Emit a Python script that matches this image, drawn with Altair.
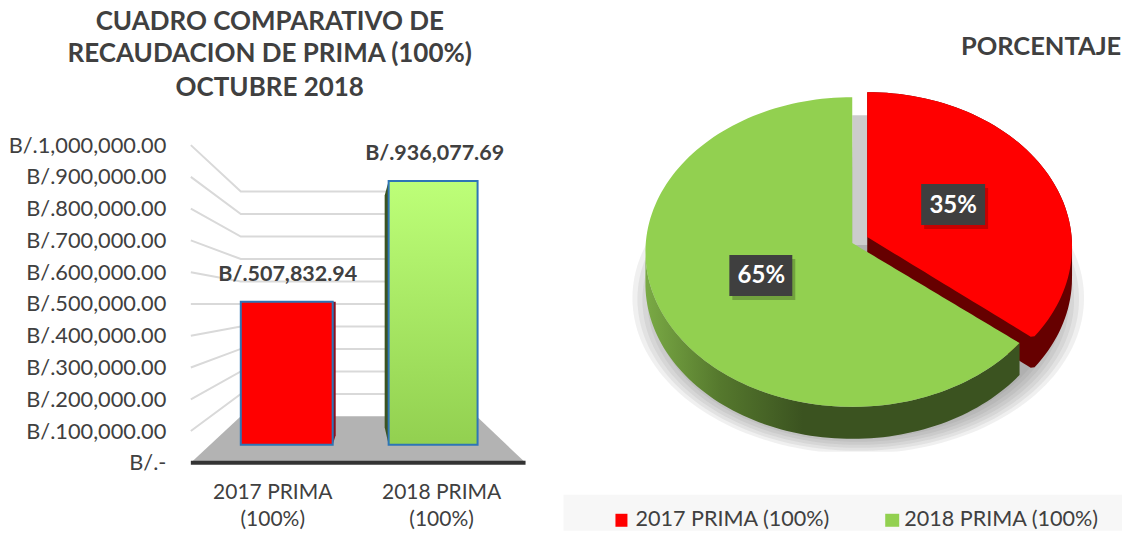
import altair as alt
import numpy as np
import pandas as pd

# ---- data ----
title_lines = ["CUADRO COMPARATIVO DE", "RECAUDACION DE PRIMA (100%)", "OCTUBRE 2018"]
categories = ["2017 PRIMA (100%)", "2018 PRIMA (100%)"]
values = [507832.94, 936077.69]
value_labels = ["B/.507,832.94", "B/.936,077.69"]
shares = [35, 65]
share_labels = ["35%", "65%"]
ticks = [0, 100000, 200000, 300000, 400000, 500000, 600000, 700000, 800000, 900000, 1000000]

FONT = "Lato"
TXT = "#404040"
RED = "#ff0000"
GREEN = "#92d050"

# ---- left panel: value axis is the front edge of a perspective box ----
PX_PER_UNIT = 318 / 1e6
def val(py):
    return (463 - py) / PX_PER_UNIT
def on_bar_plane(v):
    return val(445) + v * 28.2 / 31.8
def on_back_wall(v):
    return val(416.5) + v * 22.5 / 31.8

LW, LH = 370, 523
xl = alt.X("x:Q", axis=None, scale=alt.Scale(domain=[185, 555], nice=False, zero=False))
yn = alt.Y("y:Q", title=None, scale=alt.Scale(domain=[val(531), val(8)], nice=False, zero=False),
           axis=alt.Axis(values=ticks, domain=False, ticks=False, grid=False, labelFont=FONT,
                         labelFontSize=21.8, labelColor=TXT, labelPadding=20, minExtent=177, maxExtent=177,
                         labelExpr="datum.value === 0 ? 'B/.-\u00a0\u00a0' : 'B/.' + format(datum.value, ',.2f')"))

grid_rows = []
for t in ticks[1:]:
    grid_rows += [dict(t=t, i=0, x=190, y=t), dict(t=t, i=1, x=240, y=on_back_wall(t)), dict(t=t, i=2, x=386, y=on_back_wall(t))]
grid = alt.Chart(pd.DataFrame(grid_rows)).mark_line(color="#d9d9d9", strokeWidth=2).encode(
    x=xl, y=yn, detail="t:N", order="i:Q")

floor = alt.Chart(pd.DataFrame([dict(x=190, y=0, y2=0), dict(x=240, y=val(416.5), y2=0),
                                dict(x=476, y=val(416.5), y2=0), dict(x=525, y=0, y2=0)])).mark_area(
    color="#b3b3b3", orient="vertical").encode(x=xl, y=yn, y2="y2:Q")
base_line = alt.Chart(pd.DataFrame(dict(x=[190], x2=[525], y=[0]))).mark_rule(color="#333333", strokeWidth=4).encode(
    x=xl, x2="x2:Q", y=yn)

def bar(i, x0, x1, fill):
    d = pd.DataFrame(dict(x=[x0], x2=[x1], y=[on_bar_plane(values[i])], y2=[on_bar_plane(0)]))
    return alt.Chart(d).mark_bar(color=fill, stroke="#2e75b6", strokeWidth=2).encode(
        x=xl, x2="x2:Q", y=yn, y2="y2:Q")

green_grad = alt.LinearGradient(gradient="linear", x1=0, x2=0, y1=0, y2=1,
                          stops=[alt.GradientStop(color="#bdff78", offset=0), alt.GradientStop(color="#92d050", offset=1)])
top0, top1 = on_bar_plane(values[0]), on_bar_plane(values[1])
base = on_bar_plane(0)
side_red = alt.Chart(pd.DataFrame([dict(x=332, y=top0, y2=base), dict(x=335, y=top0, y2=base + 30000)])).mark_area(
    color="#8c1020", orient="vertical").encode(x=xl, y=yn, y2="y2:Q")
side_green = alt.Chart(pd.DataFrame([dict(x=384, y=top1 - 45000, y2=base + 55000), dict(x=388, y=top1, y2=base)])).mark_area(
    color="#3b5320", orient="vertical").encode(x=xl, y=yn, y2="y2:Q")

val_text = alt.Chart(pd.DataFrame(dict(x=[287, 434], y=[on_bar_plane(v) for v in values], t=value_labels))).mark_text(
    font=FONT, fontSize=21.5, fontWeight="bold", color=TXT, dy=-27).encode(x=xl, y=yn, text="t:N")

cat_rows = []
for c, x in zip(categories, [272, 441]):
    a, b = c.split(" (")
    cat_rows += [dict(x=x, y=val(493), t=a), dict(x=x, y=val(520), t="(" + b)]
cat_text = alt.Chart(pd.DataFrame(cat_rows)).mark_text(font=FONT, fontSize=21, color=TXT).encode(x=xl, y=yn, text="t:N")

title_text = alt.Chart(pd.DataFrame(dict(x=[269, 269, 269], y=[val(22), val(54), val(88)], t=title_lines))).mark_text(
    font=FONT, fontSize=26, fontWeight="bold", color=TXT).encode(x=xl, y=yn, text="t:N")

left = alt.layer(floor, grid, base_line, side_red, bar(0, 240, 332, RED), side_green,
                 bar(1, 388, 477, green_grad), val_text, cat_text, title_text).properties(width=LW, height=LH)

# ---- right panel: tilted pie, elliptical outline derived from the shares ----
RW, RH = 567, 523
xr_scale = alt.Scale(domain=[555, 1122], nice=False, zero=False)
yr_scale = alt.Scale(domain=[531, 8], nice=False, zero=False)
xr = alt.X("x:Q", axis=None, scale=xr_scale)
yr = alt.Y("y:Q", axis=None, scale=yr_scale)
DEPTH = 31

def ell(cx, cy, rx, ry, deg):
    a = np.radians(deg)
    return cx + rx * np.sin(a), cy - ry * np.cos(a)

def area_df(xs, ys, y2s):
    return pd.DataFrame(dict(x=xs, y=ys, y2=y2s))

def area_layer(d, color, **kw):
    return alt.Chart(d).mark_area(color=color, orient="vertical", **kw).encode(
        x=xr, y=yr, y2="y2:Q")

def full_ellipse(cx, cy, rx, ry, clip=None):
    a = np.radians(np.linspace(-90, 90, 91))
    xs = cx + rx * np.sin(a)
    up = cy - ry * np.cos(a)
    lo = cy + ry * np.cos(a)
    if clip is not None:
        lo = np.minimum(lo, clip)
        up = np.minimum(up, clip)
    return area_df(xs, up, lo)

shadow = [area_layer(full_ellipse(858, 298 + k, 226 - 5 * k, 156 - 4 * k, 452), "#707070", opacity=0.1) for k in range(0, 7)]

gap = alt.Chart(pd.DataFrame(dict(x=[852], x2=[868], y=[115], y2=[245]))).mark_rect(color="#cccccc").encode(
    x=xr, x2="x2:Q", y=yr, y2="y2:Q")

split = shares[0] / sum(shares) * 360

# red slice
rcx, rcy, rrx, rry = 867, 247, 205, 155
apex_r = (867, 237)
deg = np.linspace(0, split, 70)
rx_pts, ry_pts = ell(rcx, rcy, rrx, rry, deg)
imax = int(np.argmax(rx_pts))
ux, uy = rx_pts[:imax + 1], ry_pts[:imax + 1]
lx, ly = rx_pts[imax:][::-1], ry_pts[imax:][::-1]
cut_x = np.concatenate([[apex_r[0]], lx])
cut_y = np.concatenate([[apex_r[1]], ly])
xs = ux
lower = np.interp(xs, cut_x, cut_y)
red_top = area_df(xs, uy, lower)
red_side = area_df(xs, uy, lower + DEPTH)

# green slice
gcx, gcy, grx, gry = 852, 252, 207, 155
apex_g = (852, 243)
deg2 = np.linspace(360, split, 140)
gx, gy = ell(gcx, gcy, grx, gry, deg2)
imin = int(np.argmin(gx))
upper_x, upper_y = gx[:imin + 1][::-1], gy[:imin + 1][::-1]
lower_x, lower_y = gx[imin:], gy[imin:]
end_x, end_y = gx[-1], gy[-1]
xs_left = upper_x
xs_right = np.linspace(gcx, end_x, 40)
x_all = np.concatenate([xs_left, xs_right])
u_all = np.concatenate([upper_y, apex_g[1] + (xs_right - apex_g[0]) * (end_y - apex_g[1]) / (end_x - apex_g[0])])
l_all = np.interp(x_all, lower_x, lower_y)
green_top = area_df(x_all, u_all, l_all)
green_side = area_df(lower_x, lower_y, lower_y + DEPTH + 1)

side_grad = alt.LinearGradient(gradient="linear", x1=0, x2=1, y1=0, y2=0, stops=[
    alt.GradientStop(color="#7aaa45", offset=0),
    alt.GradientStop(color="#55782d", offset=0.2),
    alt.GradientStop(color="#3b5320", offset=0.42),
    alt.GradientStop(color="#3b5320", offset=1)])

# label boxes
boxes = pd.DataFrame(dict(x=[921, 729], x2=[985, 792], y=[184, 255], y2=[225, 296], cx=[953, 761], cy=[205.5, 276.5], t=share_labels))
box_shadow = alt.Chart(boxes).transform_calculate(a="datum.x+3", b="datum.x2+3", c="datum.y+4", d="datum.y2+4").mark_rect(
    color="#000000", opacity=0.22).encode(x=alt.X("a:Q", axis=None, scale=xr_scale), x2="b:Q",
                                          y=alt.Y("c:Q", axis=None, scale=yr_scale), y2="d:Q")
box = alt.Chart(boxes).mark_rect(color="#3f3f3f").encode(x=xr, x2="x2:Q", y=yr, y2="y2:Q")
box_text = alt.Chart(boxes).mark_text(font=FONT, fontSize=24, fontWeight="bold", color="#ffffff").encode(
    x=alt.X("cx:Q", axis=None, scale=xr_scale), y=alt.Y("cy:Q", axis=None, scale=yr_scale), text="t:N")

pie_title = alt.Chart(pd.DataFrame(dict(x=[1041], y=[47], t=["PORCENTAJE"]))).mark_text(
    font=FONT, fontSize=25.5, fontWeight="bold", color=TXT).encode(x=xr, y=yr, text="t:N")

band = alt.Chart(pd.DataFrame(dict(x=[563], x2=[1122], y=[495], y2=[531]))).mark_rect(color="#f7f7f7").encode(
    x=xr, x2="x2:Q", y=yr, y2="y2:Q")
legend_sw = alt.Chart(pd.DataFrame(dict(x=[615, 885], x2=[627, 899], y=[514, 514], y2=[527, 527], c=categories))).mark_rect().encode(
    x=xr, x2="x2:Q", y=yr, y2="y2:Q",
    color=alt.Color("c:N", legend=None, scale=alt.Scale(domain=categories, range=[RED, GREEN])))
legend_tx = alt.Chart(pd.DataFrame(dict(x=[635, 904], y=[520, 520], c=categories))).mark_text(
    font=FONT, fontSize=21.6, color=TXT, align="left").encode(x=xr, y=yr, text="c:N")

right = alt.layer(*shadow, gap, area_layer(red_side, "#660000"), area_layer(red_top, RED),
                  area_layer(green_side, side_grad), area_layer(green_top, GREEN),
                  box_shadow, box, box_text, pie_title, band, legend_sw, legend_tx).properties(width=RW, height=RH)

chart = alt.hconcat(left, right, spacing=0).properties(padding=0).configure_view(stroke=None)
chart.save("out.html", embed_options={"renderer": "svg", "actions": False})
